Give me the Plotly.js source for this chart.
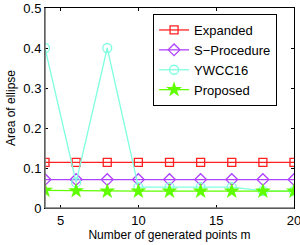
<!DOCTYPE html>
<html>
<head>
<meta charset="utf-8">
<script src="https://cdn.plot.ly/plotly-3.0.1.min.js"></script>
<style>html,body{margin:0;padding:0;background:#fff;}#chart{width:300px;height:245px;}</style>
</head>
<body>
<div id="chart"></div>
<script>
var m = [4, 6, 8, 10, 12, 14, 16, 18, 20];
var expanded = [0.114, 0.114, 0.114, 0.114, 0.114, 0.114, 0.114, 0.114, 0.114];
var sProcedure = [0.071, 0.071, 0.071, 0.071, 0.071, 0.071, 0.071, 0.071, 0.071];
var ywcc16 = [0.4, 0.064, 0.4, 0.052, 0.052, 0.052, 0.052, 0.043, 0.042];
var proposed = [0.044, 0.043, 0.042, 0.042, 0.042, 0.042, 0.042, 0.042, 0.042];
var seriesNames = ['Expanded', 'S\u2212Procedure', 'YWCC16', 'Proposed'];
var xTicks = [5, 10, 15, 20];
var yTicks = [0, 0.1, 0.2, 0.3, 0.4, 0.5];
var yTickText = ['0', '0.1', '0.2', '0.3', '0.4', '0.5'];

var font = {family: 'Liberation Sans, Arial, sans-serif', size: 13, color: '#000'};
var titleFont = {family: 'Liberation Sans, Arial, sans-serif', size: 12, color: '#000'};
var traces = [
  {x: m, y: expanded, name: seriesNames[0], mode: 'lines+markers',
   line: {color: '#ff2020', width: 1.3},
   marker: {symbol: 'square-open', size: 8, color: '#ff2020', line: {width: 1.3}}},
  {x: m, y: sProcedure, name: seriesNames[1], mode: 'lines+markers',
   line: {color: '#b040ff', width: 1.3},
   marker: {symbol: 'diamond-open', size: 9, color: '#b040ff', line: {width: 1.3}}},
  {x: m, y: ywcc16, name: seriesNames[2], mode: 'lines+markers',
   line: {color: '#80ffe0', width: 1.3},
   marker: {symbol: 'circle-open', size: 9, color: '#80ffe0', line: {width: 1.3}}},
  {x: m, y: proposed, name: seriesNames[3], mode: 'lines+markers',
   line: {color: '#60ff00', width: 1.3},
   marker: {symbol: 'star', size: 12, color: '#60ff00', line: {width: 0}}}
];

var layout = {
  width: 300, height: 245,
  margin: {l: 45, r: 6, t: 8, b: 37},
  paper_bgcolor: '#fff', plot_bgcolor: '#fff',
  font: font,
  showlegend: true,
  legend: {x: 0.434, y: 0.97, xanchor: 'left', yanchor: 'top',
    bgcolor: '#fff', bordercolor: '#000', borderwidth: 1,
    font: font, tracegroupgap: 0, itemwidth: 30},
  xaxis: {range: [4, 20], tickvals: xTicks, ticks: 'inside', ticklen: 3,
    tickcolor: '#000', showline: true, linecolor: '#000', linewidth: 1, mirror: 'allticks',
    ticklabeloverflow: 'allow',
    showgrid: false, zeroline: false, tickfont: font,
    title: {text: 'Number of generated points m', font: titleFont, standoff: 4}},
  yaxis: {range: [0, 0.5], tickvals: yTicks, ticktext: yTickText,
    ticks: 'inside', ticklen: 3, tickcolor: '#000', showline: true,
    linecolor: '#000', linewidth: 1, mirror: 'allticks',
    showgrid: false, zeroline: false, tickfont: font,
    title: {text: 'Area of ellipse', font: titleFont, standoff: 5}},
  shapes: [
    {type: 'line', xref: 'paper', yref: 'paper', x0: 0, x1: 0, y0: 0, y1: 1, layer: 'above', line: {color: '#777', width: 1.6}},
    {type: 'line', xref: 'paper', yref: 'paper', x0: 0, x1: 1, y0: 0, y1: 0, layer: 'above', line: {color: '#777', width: 1.6}}
  ]
};

Plotly.newPlot('chart', traces, layout, {staticPlot: true, displayModeBar: false});
</script>
</body>
</html>
